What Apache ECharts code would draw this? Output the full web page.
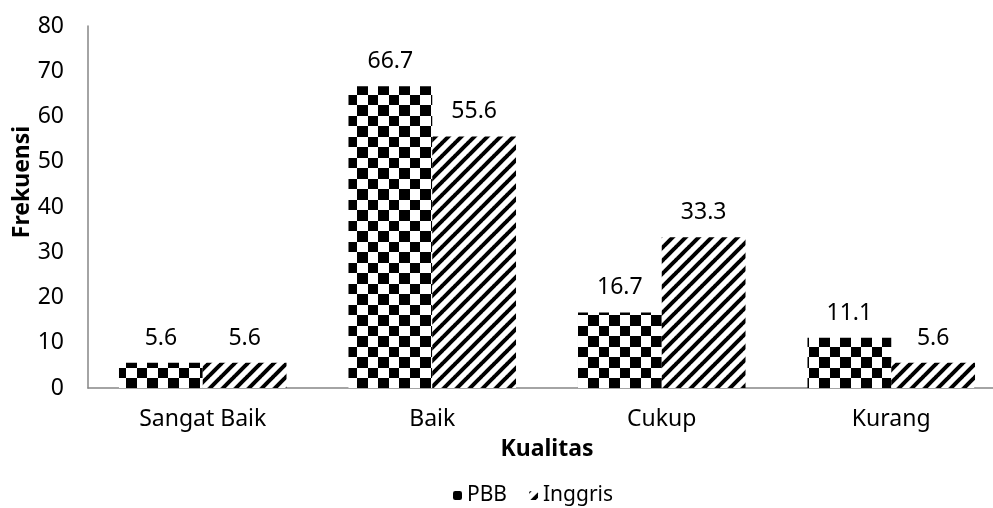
<!DOCTYPE html>
<html><head><meta charset="utf-8">
<script src="https://cdn.jsdelivr.net/npm/echarts@6/dist/echarts.min.js"></script>
<style>html,body{margin:0;padding:0;background:#fff;overflow:hidden;width:993px;height:508px}#c{width:1006px;height:508px}</style>
</head><body><div id="c"></div>
<script>
var categories = ['Sangat Baik', 'Baik', 'Cukup', 'Kurang'];
var pbb = [5.6, 66.7, 16.7, 11.1];
var inggris = [5.6, 55.6, 33.3, 5.6];
var seriesNames = ['PBB', 'Inggris'];
var yTicks = [0, 10, 20, 30, 40, 50, 60, 70, 80];

function checker() {
  var c = document.createElement('canvas'); c.width = 21; c.height = 21;
  var g = c.getContext('2d');
  g.fillStyle = '#fff'; g.fillRect(0, 0, 21, 21);
  g.fillStyle = '#000';
  g.fillRect(0, 0, 11, 11); g.fillRect(11, 11, 10, 10);
  return c;
}
function stripes() {
  var s = 13;
  var c = document.createElement('canvas'); c.width = s; c.height = s;
  var g = c.getContext('2d');
  g.fillStyle = '#fff'; g.fillRect(0, 0, s, s);
  g.strokeStyle = '#000'; g.lineWidth = 4;
  for (var k = -1; k <= 1; k++) {
    g.beginPath(); g.moveTo(k * s - 1, s + 1); g.lineTo(k * s + s + 1, -1); g.stroke();
  }
  return c;
}
var pat1 = { image: checker(), repeat: 'repeat' };
var pat2 = { image: stripes(), repeat: 'repeat' };

var chart = echarts.init(document.getElementById('c'));
var font = "'Noto Sans', 'Open Sans', sans-serif";
var fs = 23;
var labelStyle = { show: true, position: 'top', distance: 13, color: '#000', fontSize: fs, fontFamily: font, formatter: function (p) { return p.value.toFixed(1); } };
chart.setOption({
  animation: false,
  grid: { left: 88, right: 0, top: 26, bottom: 120 },
  legend: {
    top: 480, left: 448, itemWidth: 9, itemHeight: 9, itemGap: 22,
    textStyle: { fontSize: 21, fontFamily: font, color: '#000' },
    data: seriesNames
  },
  xAxis: {
    type: 'category', data: categories,
    name: 'Kualitas', nameLocation: 'middle', nameGap: 50,
    nameTextStyle: { fontSize: fs, fontWeight: 'bold', fontFamily: font, color: '#000' },
    axisLine: { lineStyle: { color: '#868686', width: 1.5 } },
    axisTick: { show: false },
    axisLabel: { fontSize: fs, fontFamily: font, color: '#000', margin: 20 }
  },
  yAxis: {
    type: 'value', min: 0, max: 80, interval: 10,
    axisLine: { show: true, lineStyle: { color: '#868686', width: 1.5 } },
    axisTick: { show: false },
    splitLine: { show: false },
    axisLabel: { fontSize: fs, fontFamily: font, color: '#000', margin: 24,
      formatter: function (v) { return yTicks.indexOf(v) >= 0 ? String(v) : ''; } }
  },
  graphic: [{
    type: 'text', x: 22, y: 182, rotation: Math.PI / 2,
    style: { text: 'Frekuensi', fontSize: fs, fontWeight: 'bold', fontFamily: font, fill: '#000', align: 'center', verticalAlign: 'middle' }
  }],
  series: [
    { name: seriesNames[0], type: 'bar', data: pbb, barGap: '0%', barCategoryGap: '27%',
      itemStyle: { color: pat1 }, label: labelStyle },
    { name: seriesNames[1], type: 'bar', data: inggris,
      itemStyle: { color: pat2 }, label: labelStyle }
  ]
});
</script></body></html>
